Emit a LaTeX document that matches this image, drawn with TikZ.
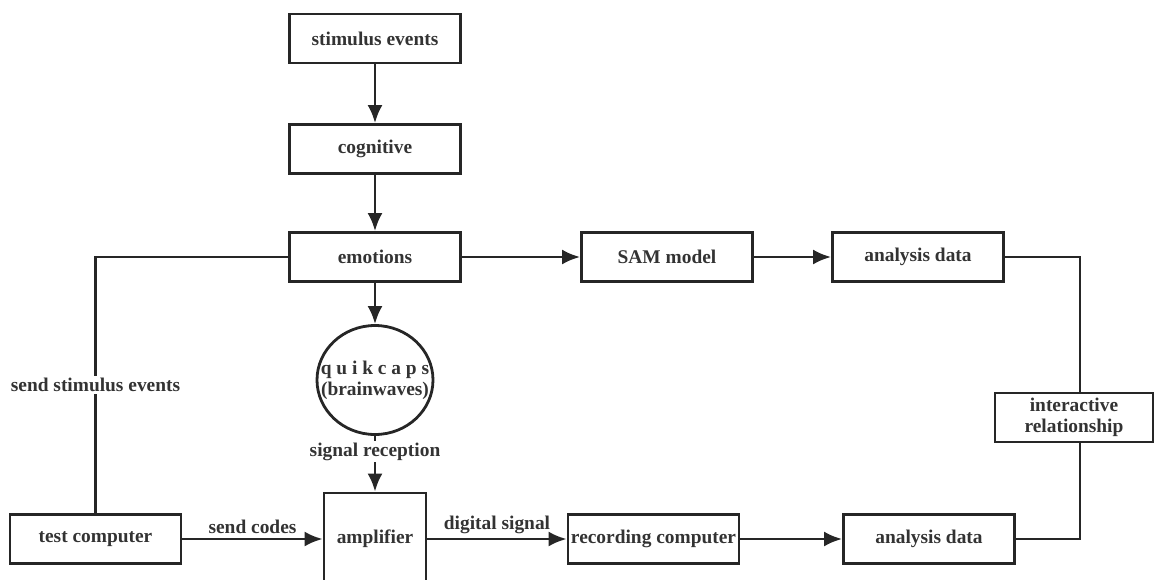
\documentclass[tikz,border=0pt]{standalone}
\usepackage{fontspec}
\setmainfont{Liberation Serif}
\usetikzlibrary{shapes.geometric,arrows.meta}

\begin{document}
\begin{tikzpicture}[
  x=0.5pt, y=-0.5pt,
  every node/.style={font=\bfseries\fontsize{9.7}{10.5}\selectfont, text=black!80},
  blk/.style={draw=black!85, line width=1.4pt, minimum width=85.5pt, minimum height=24.5pt, align=center, inner sep=1pt},
  capnode/.style={draw=black!85, line width=1.4pt, ellipse, minimum width=58pt, minimum height=54.5pt, inner xsep=-12pt, inner ysep=0pt, align=center},
  lbl/.style={fill=white, inner sep=1pt},
  flow/.style={draw=black!85, line width=1.4pt, -{Latex[length=9pt,width=7.5pt]}},
  link/.style={draw=black!85, line width=1.4pt}
]
  \useasboundingbox (0,0) rectangle (1156,579);
  \clip (0,0) rectangle (1156,579);

  % centre column
  \node[blk] (stim) at (375,38.5) {stimulus events};
  \node[blk] (cog) at (375,149) {cognitive};
  \node[blk] (emo) at (375,257) {emotions};
  \node[capnode] (quik) at (375,380) {q u i k c a p s\\(brainwaves)};
  \node[blk, minimum width=51pt, minimum height=46pt] (amp) at (375,539) {amplifier};

  % top row
  \node[blk] (sam) at (667,257) {SAM model};
  \node[blk] (ana1) at (918,257) {analysis data};
  \node[blk, minimum width=79pt] (inter) at (1074,417.5) {interactive\\relationship};

  % bottom row
  \node[blk] (test) at (95.5,539) {test computer};
  \node[blk] (rec) at (653.5,539) {recording computer};
  \node[blk] (ana2) at (929,539) {analysis data};

  \draw[flow] (stim) -- (cog);
  \draw[flow] (cog) -- (emo);
  \draw[flow] (emo) -- (quik);
  \draw[flow] (quik) -- node[lbl, pos=0.28] {signal reception} (amp);
  \draw[flow] (emo) -- (sam);
  \draw[flow] (sam) -- (ana1);
  \draw[link] (test.north) |- node[lbl, pos=0.25] {send stimulus events} (emo.west);
  \draw[flow] (test) -- node[above, inner sep=2pt] {send codes} (amp);
  \draw[flow] (amp) -- node[above, inner sep=2pt] {digital signal} (rec);
  \draw[flow] (rec) -- (ana2);
  \draw[link] (ana1.east) -| ([xshift=3pt]inter.north);
  \draw[link] (ana2.east) -| ([xshift=3pt]inter.south);
\end{tikzpicture}
\end{document}
